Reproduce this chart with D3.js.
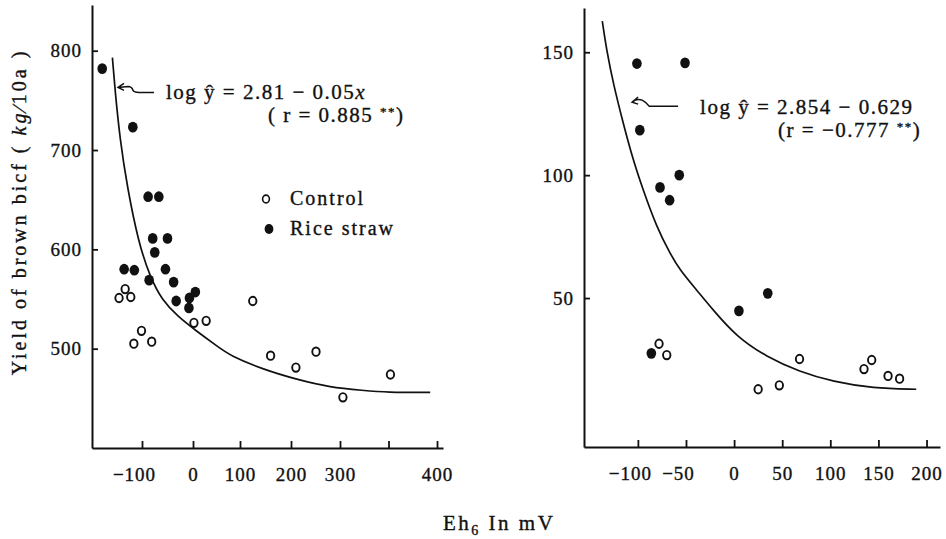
<!DOCTYPE html>
<html>
<head>
<meta charset="utf-8">
<script src="https://cdn.jsdelivr.net/npm/d3@7"></script>
<style>
  body { margin: 0; background: #fff; }
  svg { display: block; }
  text { font-family: "Liberation Serif", "DejaVu Serif", serif; fill: #111; stroke: #111; stroke-width: 0.35px; }
</style>
</head>
<body>
<script>
// ticks
const leftXTicks = [-100, 0, 100, 200, 300, 350, 400];
const leftYTicks = [500, 600, 700, 800];
const rightXTicks = [-100, -50, 0, 50, 100, 150, 200];
const rightYTicks = [50, 100, 150];

// left panel: Eh6 (mV) / yield of brown rice (kg/10a)
const leftControl = [[-133, 560], [-145, 551], [-122, 552], [-101, 518], [-116, 505], [-81, 507],
  [2, 526], [28, 528], [125, 548], [160, 493], [210, 481], [251, 497], [303, 451], [352, 474]];
const leftStraw = [[-178, 782], [-118, 723], [-88, 653], [-67, 653], [-79, 611], [-50, 611],
  [-75, 597], [-135, 580], [-115, 579], [-54, 580], [-86, 569], [-38, 567], [5, 557],
  [-33, 548], [-7, 551], [-8, 541]];
const leftCurve = [[-158, 793], [-153, 761], [-143, 710], [-129, 663], [-107, 607], [-84, 572],
  [-61, 549], [-29, 532], [4, 519], [53, 502], [79, 493], [146, 479], [212, 469], [280, 461],
  [324, 458], [348, 456], [393, 456]];

// right panel
const rightControl = [[-78, 31.4], [-70, 26.8], [25, 12.9], [47, 14.5], [68, 25.2],
  [135, 21.1], [143, 24.8], [160, 18.3], [172, 17.2]];
const rightStraw = [[-101, 145.4], [-51, 145.7], [-98, 118.3], [-57, 100], [-77, 95],
  [-67, 89.8], [5, 44.8], [35, 51.9], [-86, 27.5]];
const rightCurve = [[-137, 162.7], [-132.5, 150.8], [-125.6, 137.3], [-115.2, 121], [-104.9, 106.1],
  [-94.5, 93.9], [-80.6, 79], [-66.7, 68.2], [-56.4, 61.4], [-39, 53.3], [-21.8, 45.1],
  [2.5, 34.3], [33.6, 26.1], [68.2, 20], [102.8, 16], [144.3, 13.3], [189.3, 12.9]];

const svg = d3.select("body").append("svg")
  .attr("width", 946)
  .attr("height", 539);

// the printed left x axis is not evenly spaced, so it is piecewise
const xL = d3.scaleLinear()
  .domain([-198, -100, 0, 100, 200, 300, 400, 406])
  .range([92, 142, 193, 240, 291, 340, 437, 443]);
const yL = d3.scaleLinear().domain([400, 846]).range([448, 5]);

const xR = d3.scaleLinear().domain([-156, 214]).range([584, 940]);
const yR = d3.scaleLinear().domain([-10.6, 168]).range([447, 8]);

function panel(x, y, xt, yt, control, straw, curve) {
  let g = svg.append("g");

  let ax = g.append("g")
    .attr("transform", "translate(0," + y.range()[0] + ")")
    .call(d3.axisBottom(x).tickValues(xt)
      .tickFormat(d => d == 350 ? "" : d3.format("d")(d))
      .tickSizeInner(-7).tickSizeOuter(0).tickPadding(20));
  ax.selectAll("text").filter(d => d < 0).attr("dx", -8);

  let ay = g.append("g")
    .attr("transform", "translate(" + x.range()[0] + ",0)")
    .call(d3.axisLeft(y).tickValues(yt)
      .tickSizeInner(-6).tickSizeOuter(0).tickPadding(10));

  g.selectAll(".domain").attr("stroke", "#111").attr("stroke-width", 2);
  g.selectAll(".tick line").attr("stroke", "#111").attr("stroke-width", 1.8);
  g.selectAll(".tick text")
    .style("font-size", "19px")
    .style("letter-spacing", "1px")
    .attr("fill", "#111");

  let line = d3.line()
    .x(d => x(d[0]))
    .y(d => y(d[1]))
    .curve(d3.curveBasis);

  g.append("path")
    .datum(curve)
    .attr("d", line)
    .attr("fill", "none")
    .attr("stroke", "#111")
    .attr("stroke-width", 1.7);

  g.selectAll(".straw")
    .data(straw)
    .enter().append("ellipse")
    .attr("cx", d => x(d[0]))
    .attr("cy", d => y(d[1]))
    .attr("rx", 4.8)
    .attr("ry", 5.4)
    .attr("fill", "#111");

  g.selectAll(".ctrl")
    .data(control)
    .enter().append("ellipse")
    .attr("cx", d => x(d[0]))
    .attr("cy", d => y(d[1]))
    .attr("rx", 3.7)
    .attr("ry", 4.2)
    .attr("fill", "#fff")
    .attr("stroke", "#111")
    .attr("stroke-width", 1.9);

  return g;
}

let gl = panel(xL, yL, leftXTicks, leftYTicks, leftControl, leftStraw, leftCurve);
let gr = panel(xR, yR, rightXTicks, rightYTicks, rightControl, rightStraw, rightCurve);

// equation labels with the little hooked arrow
function note(g, px, py, hook, line1, line2, dx2) {
  let a = g.append("g").attr("transform", "translate(" + px + "," + py + ")");
  a.append("path")
    .attr("d", hook)
    .attr("fill", "none")
    .attr("stroke", "#111")
    .attr("stroke-width", 1.5);
  let t1 = a.append("text")
    .attr("x", line1.dx)
    .attr("y", 12)
    .style("font-size", "21px")
    .style("letter-spacing", "1.5px");
  line1.parts.forEach(p => {
    t1.append("tspan").text(p[0]).style("font-style", p[1] ? "italic" : null);
  });
  let t2 = a.append("text")
    .attr("x", dx2)
    .attr("y", 35)
    .style("font-size", "21px")
    .style("letter-spacing", "1.5px");
  line2.forEach(p => {
    let s = t2.append("tspan").text(p[0]);
    if (p[1] == "sup") s.attr("dy", -6).style("font-size", "13px");
    if (p[1] == "down") s.attr("dy", 6);
  });
}

note(gl, xL(-147), yL(763),
  "M6,-4 L0,0 L6,3 M0,0 L10,-1 Q14,-1 15,3 Q16,5 21,5 L36,5",
  { dx: 48, parts: [["log  ŷ  =  2.81 − 0.05"], ["x", true]] },
  [["( r = 0.885 "], ["**", "sup"], [")", "down"]], 150);

note(gr, xR(-106), yR(129.7),
  "M6,-5 L0,0 L6,2 M0,0 Q5,-4 10,-2 Q14,0 17,4 L46,4",
  { dx: 68, parts: [["log  ŷ =  2.854 − 0.629"]] },
  [["(r = −0.777 "], ["**", "sup"], [")", "down"]], 146);

// legend (left panel)
const legendItems = ["Control", "Rice straw"];
let lg = gl.append("g").attr("transform", "translate(266,199)");
legendItems.forEach((name, i) => {
  let row = lg.append("g").attr("transform", "translate(" + (i * 3) + "," + (i * 30) + ")");
  if (i == 0) {
    row.append("ellipse").attr("rx", 3.4).attr("ry", 3.9)
      .attr("fill", "#fff").attr("stroke", "#111").attr("stroke-width", 1.6);
  } else {
    row.append("ellipse").attr("rx", 4.4).attr("ry", 5).attr("fill", "#111");
  }
  row.append("text")
    .attr("x", 24 - i * 3)
    .attr("y", 6)
    .style("font-size", "20px")
    .style("letter-spacing", "2px")
    .text(name);
});

// axis titles
let yt = svg.append("text")
  .attr("transform", "translate(26,212) rotate(-90)")
  .attr("text-anchor", "middle")
  .style("font-size", "20px")
  .style("letter-spacing", "3px");
yt.append("tspan").text("Yield of brown bicf ( ");
yt.append("tspan").text("kg").style("font-style", "italic");
yt.append("tspan").text("∕10a )");

let xt = svg.append("text")
  .attr("x", 443)
  .attr("y", 530)
  .style("font-size", "21px")
  .style("letter-spacing", "2.5px");
xt.append("tspan").text("Eh");
xt.append("tspan").text("6").attr("dy", 5).style("font-size", "14px");
xt.append("tspan").text("  In  mV").attr("dy", -5);
</script>
</body>
</html>
